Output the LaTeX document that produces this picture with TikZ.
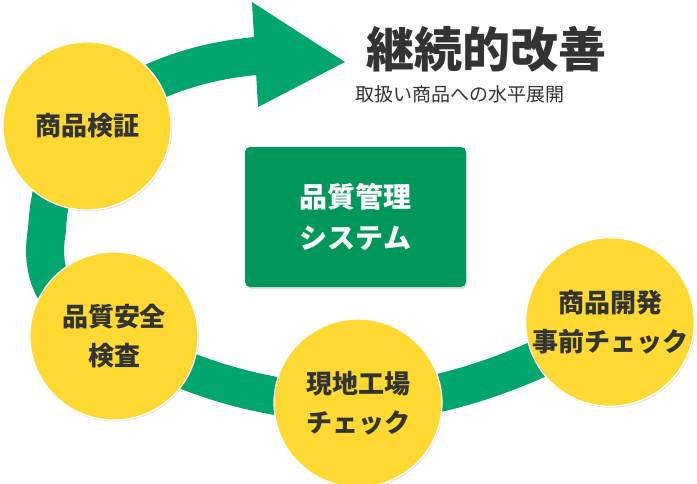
\documentclass[tikz,border=0pt]{standalone}
\usepackage{fontspec}
\setmainfont{Noto Sans CJK JP}
\usepackage{tikz}
\usetikzlibrary{shadows, calc, backgrounds}

\definecolor{bandgreen}{RGB}{0,166,110}
\definecolor{boxgreen}{RGB}{0,152,90}
\definecolor{stepyellow}{RGB}{253,217,50}
\definecolor{textgray}{RGB}{51,51,51}

\begin{document}
\begin{tikzpicture}[x=1pt, y=-1pt,
    stepcircle/.style={circle, fill=stepyellow, draw=white, line width=1.2pt, minimum size=168pt, inner sep=0pt, align=center, text=textgray, font=\fontsize{26}{39}\selectfont\bfseries, drop shadow={opacity=0.2, shadow xshift=1pt, shadow yshift=-1.5pt}},
    band/.style={line width=38pt, draw=bandgreen}]
    \useasboundingbox (0,0) rectangle (697,484);

    % Nodes
    \node[stepcircle] (verify) at (87,126) {商品検証};
    \node[stepcircle] (safety) at (114,336) {品質安全\\検査};
    \node[stepcircle] (field) at (358,403) {現地工場\\チェック};
    \node[stepcircle] (dev) at (610,322) {商品開発\\事前チェック};
    \coordinate (base) at (256,56);
    \coordinate (tip) at (345,62);

    % Arrows
    \begin{pgfonlayer}{background}
    \path[band] (dev.center) .. controls (520,375) and (430,403) .. (field.center)
        .. controls (280,403) and (200,385) .. (safety.center)
        .. controls (50,310) and (40,270) .. (47,230)
        .. controls (49,190) and (60,150) .. (verify.center)
        .. controls (130,85) and (190,62) .. (base);
    \fill[bandgreen] (252,2) -- (tip) -- (258,107) -- cycle;
    \end{pgfonlayer}

    % Centre box
    \node[fill=boxgreen, rounded corners=5pt, minimum width=221pt, minimum height=140pt, align=center, text=white, font=\fontsize{28}{41}\selectfont\bfseries, drop shadow={opacity=0.25, shadow xshift=1.5pt, shadow yshift=-2pt}] (system) at (355.5,217) {品質管理\\システム};

    % Title
    \node[text=textgray, font=\fontsize{48}{52}\selectfont\bfseries] (title) at (486,49) {継続的改善};
    \node[text=textgray, font=\fontsize{19}{22}\selectfont] (sub) at (460,94) {取扱い商品への水平展開};
\end{tikzpicture}
\end{document}
